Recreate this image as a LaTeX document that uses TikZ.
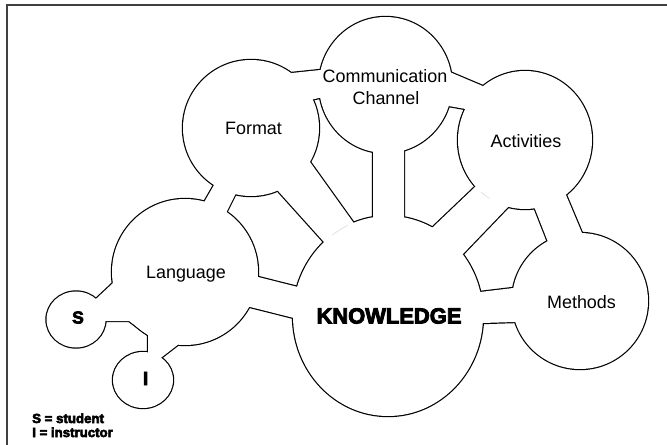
\documentclass[tikz,border=0pt]{standalone}
\usepackage{fontspec}
\setmainfont{Liberation Sans}
\newfontfamily\heavyfont{Liberation Sans}[BoldFont={Liberation Sans Bold}, BoldFeatures={FakeBold=4}]
\begin{document}
\begin{tikzpicture}[x=1bp,y=-1bp,
  outline/.style={draw=black, line width=2.4bp, line join=round},
  faint/.style={draw=black!12, line width=0.7bp},
  lbl/.style={anchor=base, inner sep=0pt, font=\fontsize{18}{22}\selectfont},
  heavy/.style={anchor=base, inner sep=0pt},
  legend/.style={anchor=base west, inner sep=0pt, font=\heavyfont\bfseries\fontsize{13.3}{15}\selectfont}
]
\useasboundingbox (0,0) rectangle (667,445);
\fill[white] (0,0) rectangle (667,445);
% frame (only top and left edges are inside the picture)
\draw[black!75, line width=1.5bp] (7,445) -- (7,5) -- (667,5);
\def\shapelist{%
 {(251,128) circle[radius=68]},%
 {(385.5,85) ellipse[x radius=66.5,y radius=68]},%
 {(525,140) ellipse[x radius=67,y radius=69]},%
 {(580,301) circle[radius=68]},%
 {(388,316) ellipse[x radius=95,y radius=100]},%
 {(185,272) circle[radius=73]},%
 {(76,319.5) ellipse[x radius=29.5,y radius=28]},%
 {(143,380) ellipse[x radius=30,y radius=28]},%
 {(286,73.6) -- (326,69.4) -- (330,95.7) -- (304,101.3) -- cycle},%
 {(446.5,70.7) -- (490.5,89.3) -- (471,110) -- (443,105) -- cycle},%
 {(203,204.2) -- (217,179.8) -- (237.7,189.6) -- (224.3,216.4) -- cycle},%
 {(306.5,157.1) -- (356.5,226.9) -- (328,246.5) -- (274,186.5) -- cycle},%
 {(373,146) -- (373,225) -- (404,223) -- (404,145) -- cycle},%
 {(479.3,182.9) -- (428.7,231.1) -- (458.8,258.3) -- (512.2,202.7) -- cycle},%
 {(563.7,189.5) -- (584.3,238.5) -- (550.2,247.6) -- (532.8,203.4) -- cycle},%
 {(519,287.3) -- (474,292.7) -- (476,323.2) -- (521,321.8) -- cycle},%
 {(252.2,275.5) -- (303.8,288.5) -- (299.8,319.5) -- (244.2,305.5) -- cycle},%
 {(92.6,302.1) -- (117.4,278.9) -- (185,272) -- (179.8,343.3) -- (157.2,360.7) -- (143,380) -- (148,357) -- (148,335) -- (129,321) -- (100,321) -- (76,319.5) -- cycle}%
}
\foreach \p in \shapelist {\path[outline] \p;}
\foreach \p in \shapelist {\fill[white] \p;}
% faint remnants of circle outlines
\draw[faint] (388,316) ++(245:95 and 100) arc[start angle=245,end angle=234,x radius=95,y radius=100];
\draw[faint] (525,140) ++(122:67 and 69) arc[start angle=122,end angle=131,x radius=67,y radius=69];
% labels
\node[lbl] (format) at (253.5,135) {Format};
\node[lbl] (comm) at (385,83) {Communication};
\node[lbl] (chan) at (386,105) {Channel};
\node[lbl] (act) at (526,148) {Activities};
\node[lbl] (meth) at (581.5,309) {Methods};
\node[lbl] (lang) at (186,279) {Language};
\node[heavy, font=\heavyfont\bfseries\fontsize{22}{24}\selectfont] (know) at (389,323.5) {KNOWLEDGE};
\node[heavy, font=\heavyfont\bfseries\fontsize{17.5}{20}\selectfont] (s) at (78,323.5) {S};
\node[heavy, font=\heavyfont\bfseries\fontsize{19}{22}\selectfont] (i) at (145.5,385) {I};
\node[legend] (leg1) at (32,423) {S = student};
\node[legend] (leg2) at (32,437) {I = instructor};
\end{tikzpicture}
\end{document}
